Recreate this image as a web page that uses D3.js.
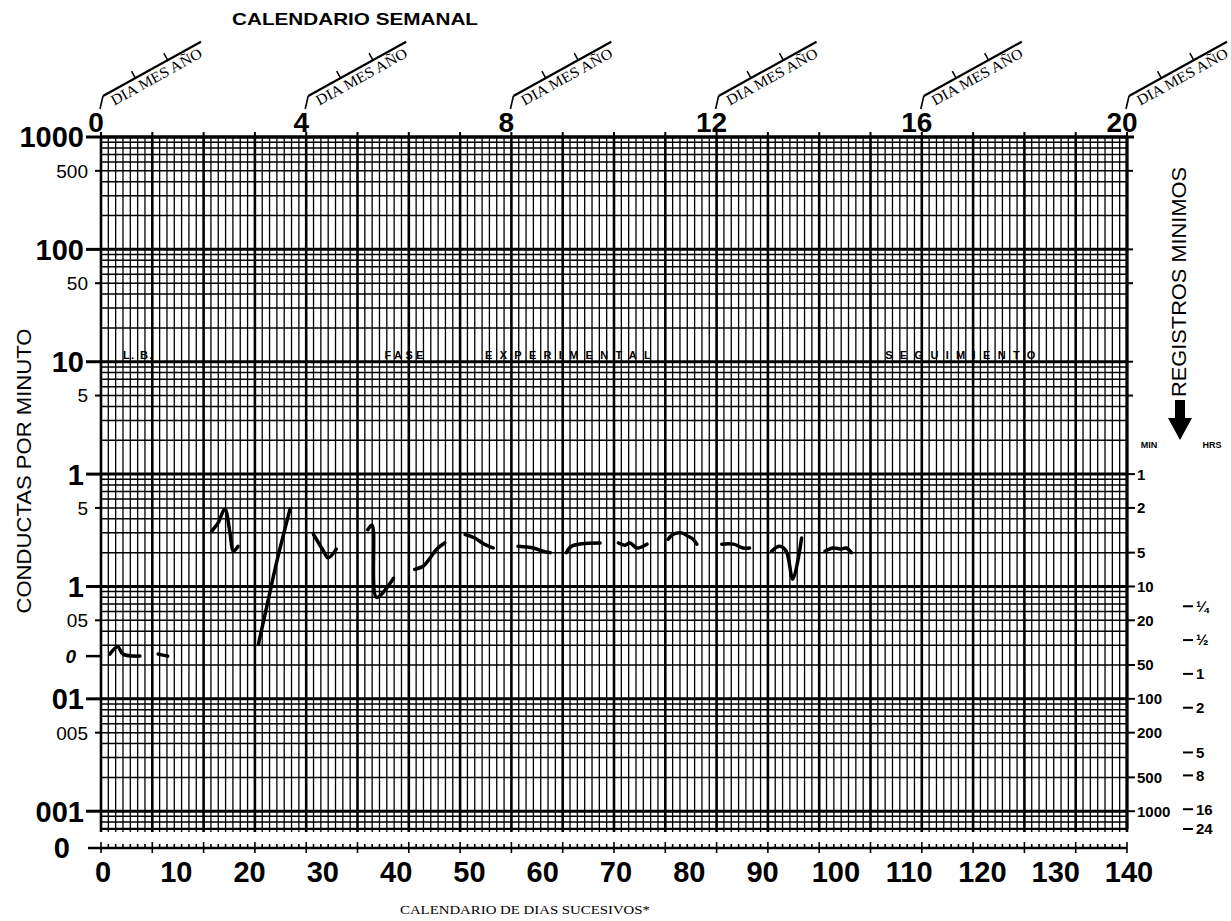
<!DOCTYPE html>
<html>
<head>
<meta charset="utf-8">
<script src="https://cdn.jsdelivr.net/npm/d3@7"></script>
<style>
  body { margin: 0; background: #fff; }
  text { fill: #000; }
</style>
</head>
<body>
<svg id="chart" width="1231" height="921"></svg>
<script>
// --- data ---
var weekTicks = [0, 4, 8, 12, 16, 20];
var dayTicks = d3.range(0, 141, 10);
var leftLabels = ["1000", "500", "100", "50", "10", "5", "1", "5", "1", "05", "01", "005", "001"];
var leftValues = [1000, 500, 100, 50, 10, 5, 1, 0.5, 0.1, 0.05, 0.01, 0.005, 0.001];
var minuteLabels = [1, 2, 5, 10, 20, 50, 100, 200, 500, 1000];
var hourLabels = ["¼", "½", "1", "2", "5", "8", "16", "24"];
var hourValues = [0.25, 0.5, 1, 2, 5, 8, 16, 24];
var phaseLabels = ["L.  B.", "FASE", "EXPERIMENTAL", "SEGUIMIENTO"];
var phaseFrom = [3, 38.7, 52.4, 107];
var phaseTo = [7, 44, 75, 127.5];
var zeroRate = 0.024;

// daily records (day, rate per minute); null = gap in the hand-drawn line
var recDays = [1.2, 2.3, 3, 5.3, null,
  7.8, 9.1, null,
  15.1, 16, 16.9, 17.6, 18.05, 18.7, null,
  21.5, 22.2, 23.1, 24, 25.8, null,
  29, 30.3, 31, 32.1, null,
  36.4, 37, 37.6, 39.9, null,
  42.8, 44, 44.9, 45.8, 46.9, null,
  49.7, 51, 52.2, 53.5, null,
  56.9, 59, 60.3, 61.3, null,
  63.5, 64.2, 65.6, 68.1, null,
  70.6, 71.5, 72.2, 73.1, 74.5, null,
  77.4, 78.1, 79.2, 80.1, 80.8, 81.3, null,
  84.7, 86.3, 87.6, 88.5, null,
  91.5, 92.6, 93.5, 94.4, 95.6, null,
  98.8, 99.9, 101, 101.7, 102.4];
var recRates = [0.025, 0.029, 0.025, 0.024, null,
  0.025, 0.024, null,
  0.31, 0.37, 0.49, 0.3, 0.206, 0.228, null,
  0.031, 0.05, 0.092, 0.168, 0.49, null,
  0.29, 0.21, 0.18, 0.215, null,
  0.32, 0.35, 0.08, 0.118, null,
  0.142, 0.152, 0.179, 0.215, 0.244, null,
  0.29, 0.27, 0.24, 0.22, null,
  0.228, 0.22, 0.206, 0.2, null,
  0.2, 0.228, 0.24, 0.244, null,
  0.244, 0.233, 0.244, 0.22, 0.238, null,
  0.263, 0.292, 0.3, 0.28, 0.263, 0.238, null,
  0.238, 0.238, 0.22, 0.22, null,
  0.206, 0.228, 0.206, 0.116, 0.27, null,
  0.206, 0.22, 0.215, 0.22, 0.2];

var svg = d3.select("#chart");
var numFont = "Liberation Sans";

var x = d3.scaleLinear().domain([0, 140]).range([101, 1127]);
var xWeek = d3.scaleLinear().domain([0, 20]).range([101, 1127]);
var y = d3.scaleLog().domain([1 / 1440, 1000]).range([829, 137]);

function isDecade(v) {
  var l = Math.log10(v);
  return Math.abs(l - Math.round(l)) < 1e-9;
}

// --- grid ---
var hvals = [];
for (var e = -4; e <= 3; e++) {
  for (var k = 1; k <= 9; k++) {
    var v = k * Math.pow(10, e);
    if (v >= 1 / 1440 - 1e-12 && v <= 1000 + 1e-9) hvals.push(v);
  }
}
var grid = svg.append("g");
grid.selectAll(".vl").data(d3.range(0, 141)).enter().append("line")
  .attr("x1", function(d) { return x(d); })
  .attr("x2", function(d) { return x(d); })
  .attr("y1", y(1000))
  .attr("y2", y(1 / 1440) + 3)
  .attr("stroke", "#000")
  .attr("stroke-width", function(d) { return d % 7 == 0 ? 2.6 : 1.3; });
grid.selectAll(".hl").data(hvals).enter().append("line")
  .attr("x1", x(0)).attr("x2", x(140))
  .attr("y1", function(d) { return y(d); })
  .attr("y2", function(d) { return y(d); })
  .attr("stroke", "#000")
  .attr("stroke-width", function(d) { return isDecade(d) ? 3 : 1.5; });
// bottom edge of the grid (24 hrs floor)
grid.append("line")
  .attr("x1", x(0)).attr("x2", x(140))
  .attr("y1", y(1 / 1440)).attr("y2", y(1 / 1440))
  .attr("stroke", "#000").attr("stroke-width", 2);
// top edge + weekly ticks
grid.append("line")
  .attr("x1", x(0)).attr("x2", x(140) + 7)
  .attr("y1", y(1000)).attr("y2", y(1000))
  .attr("stroke", "#000").attr("stroke-width", 3.2);
grid.selectAll(".wt").data(d3.range(0, 21)).enter().append("line")
  .attr("x1", function(d) { return xWeek(d); })
  .attr("x2", function(d) { return xWeek(d); })
  .attr("y1", y(1000) - 5).attr("y2", y(1000))
  .attr("stroke", "#000").attr("stroke-width", 2);

// --- left axis ---
var leftG = svg.append("g");
leftValues.forEach(function(v, i) {
  var big = isDecade(v);
  leftG.append("line")
    .attr("x1", big ? 86 : 95).attr("x2", x(0))
    .attr("y1", y(v)).attr("y2", y(v))
    .attr("stroke", "#000").attr("stroke-width", big ? 3 : 2);
  leftG.append("text")
    .attr("x", big ? 84 : 88).attr("y", y(v))
    .attr("dy", "0.36em")
    .attr("text-anchor", "end")
    .style("font-family", numFont)
    .style("font-size", big ? "29px" : "19px")
    .style("font-weight", big ? "bold" : "normal")
    .text(leftLabels[i]);
});
// hand-drawn zero line
leftG.append("line")
  .attr("x1", 86).attr("x2", x(0))
  .attr("y1", y(zeroRate)).attr("y2", y(zeroRate))
  .attr("stroke", "#000").attr("stroke-width", 2.5);
leftG.append("text")
  .attr("x", 76).attr("y", y(zeroRate)).attr("dy", "0.36em")
  .attr("text-anchor", "end")
  .style("font-family", numFont).style("font-size", "19px")
  .style("font-style", "italic").style("font-weight", "bold")
  .text("0");

svg.append("text")
  .attr("transform", "translate(31,471) rotate(-90)")
  .attr("text-anchor", "middle")
  .attr("textLength", 285).attr("lengthAdjust", "spacingAndGlyphs")
  .style("font-family", "Liberation Sans").style("font-size", "20px")
  .text("CONDUCTAS POR MINUTO");

// --- bottom day axis ---
var yAxisLine = 848;
var bottomG = svg.append("g");
bottomG.append("line")
  .attr("x1", 88).attr("x2", x(140))
  .attr("y1", yAxisLine).attr("y2", yAxisLine)
  .attr("stroke", "#000").attr("stroke-width", 2.5);
bottomG.selectAll(".dt").data(d3.range(0, 141)).enter().append("line")
  .attr("x1", function(d) { return x(d); })
  .attr("x2", function(d) { return x(d); })
  .attr("y1", function(d) { return yAxisLine - (d % 7 == 0 ? 6 : 4); })
  .attr("y2", function(d) { return yAxisLine + (d % 7 == 0 ? 5 : 1); })
  .attr("stroke", "#000").attr("stroke-width", 1.6);
bottomG.append("text")
  .attr("x", 70).attr("y", yAxisLine).attr("dy", "0.36em")
  .attr("text-anchor", "end")
  .style("font-family", numFont).style("font-size", "29px").style("font-weight", "bold")
  .text("0");
bottomG.selectAll(".dl").data(dayTicks).enter().append("text")
  .attr("x", function(d) { return x(d) + 2; })
  .attr("y", 882)
  .attr("text-anchor", "middle")
  .style("font-family", numFont).style("font-size", "29px").style("font-weight", "bold")
  .text(function(d) { return d; });
svg.append("text")
  .attr("x", 525).attr("y", 914)
  .attr("text-anchor", "middle")
  .attr("textLength", 250).attr("lengthAdjust", "spacingAndGlyphs")
  .style("font-family", "Liberation Serif").style("font-size", "13px")
  .text("CALENDARIO DE DIAS SUCESIVOS*");

// --- top weekly calendar ---
svg.append("text")
  .attr("x", 355).attr("y", 25)
  .attr("text-anchor", "middle")
  .attr("textLength", 246).attr("lengthAdjust", "spacingAndGlyphs")
  .style("font-family", "Liberation Sans").style("font-size", "17px").style("font-weight", "bold")
  .text("CALENDARIO SEMANAL");
var topG = svg.append("g");
topG.selectAll(".wl").data(weekTicks).enter().append("text")
  .attr("x", function(d) { return xWeek(d) - 5; })
  .attr("y", 132)
  .attr("text-anchor", "middle")
  .style("font-family", numFont).style("font-size", "28px").style("font-weight", "bold")
  .text(function(d) { return d; });
weekTicks.forEach(function(w) {
  var g = topG.append("g").attr("transform", "translate(" + (xWeek(w) + 2) + ",96)");
  g.append("line").attr("x1", 0).attr("y1", 0).attr("x2", -3).attr("y2", 13)
    .attr("stroke", "#000").attr("stroke-width", 1.6);
  var r = g.append("g").attr("transform", "rotate(-29)");
  r.append("line").attr("x1", 0).attr("y1", 0).attr("x2", 112).attr("y2", 0)
    .attr("stroke", "#000").attr("stroke-width", 2.2);
  [37, 74].forEach(function(t) {
    r.append("line").attr("x1", t).attr("y1", 0).attr("x2", t).attr("y2", -8)
      .attr("stroke", "#000").attr("stroke-width", 1.5);
  });
  r.append("text").attr("x", 5).attr("y", 14)
    .attr("textLength", 102).attr("lengthAdjust", "spacingAndGlyphs")
    .style("font-family", "Liberation Serif").style("font-size", "15px")
    .text("DIA MES AÑO");
});

// --- right axis: minimum records ---
var rightG = svg.append("g");
var xr = x(140);
rightG.append("line").attr("x1", xr).attr("x2", xr)
  .attr("y1", y(1000)).attr("y2", y(1 / 1440))
  .attr("stroke", "#000").attr("stroke-width", 3);
[1000, 500, 100, 50, 10, 5].forEach(function(v) {
  rightG.append("line").attr("x1", xr).attr("x2", xr + 6)
    .attr("y1", y(v)).attr("y2", y(v))
    .attr("stroke", "#000").attr("stroke-width", 2);
});
minuteLabels.forEach(function(m) {
  rightG.append("line").attr("x1", xr).attr("x2", xr + 8)
    .attr("y1", y(1 / m)).attr("y2", y(1 / m))
    .attr("stroke", "#000").attr("stroke-width", 2);
  rightG.append("text").attr("x", xr + 10).attr("y", y(1 / m)).attr("dy", "0.36em")
    .style("font-family", numFont).style("font-size", "15px").style("font-weight", "bold")
    .text(m);
});
hourValues.forEach(function(h, i) {
  var yy = y(1 / (h * 60));
  rightG.append("line").attr("x1", 1183).attr("x2", 1193)
    .attr("y1", yy).attr("y2", yy)
    .attr("stroke", "#000").attr("stroke-width", 2);
  rightG.append("text").attr("x", 1196).attr("y", yy).attr("dy", "0.36em")
    .style("font-family", numFont).style("font-size", "15px").style("font-weight", "bold")
    .text(hourLabels[i]);
});
svg.append("text")
  .attr("transform", "translate(1186,282) rotate(-90)")
  .attr("text-anchor", "middle")
  .attr("textLength", 230).attr("lengthAdjust", "spacingAndGlyphs")
  .style("font-family", "Liberation Sans").style("font-size", "20px")
  .text("REGISTROS MINIMOS");
svg.append("path")
  .attr("d", "M1175,400 L1185,400 L1185,418 L1192,418 L1180,440 L1168,418 L1175,418 Z")
  .attr("fill", "#000");
svg.append("text").attr("x", 1149).attr("y", 448).attr("text-anchor", "middle")
  .style("font-family", "Liberation Sans").style("font-size", "9px").style("font-weight", "bold")
  .text("MIN");
svg.append("text").attr("x", 1212).attr("y", 448).attr("text-anchor", "middle")
  .style("font-family", "Liberation Sans").style("font-size", "9px").style("font-weight", "bold")
  .text("HRS");

// --- phase labels along the 10-line ---
phaseLabels.forEach(function(p, i) {
  svg.append("text")
    .attr("x", x(phaseFrom[i])).attr("y", y(10) - 3)
    .attr("textLength", x(phaseTo[i]) - x(phaseFrom[i])).attr("lengthAdjust", "spacing")
    .style("font-family", "Liberation Sans").style("font-size", "11px").style("font-weight", "bold")
    .text(p);
});

// --- record line ---
var recs = recDays.map(function(d, i) { return [d, recRates[i]]; });
var line = d3.line()
  .defined(function(d) { return d[0] != null && d[1] != null; })
  .x(function(d) { return x(d[0]); })
  .y(function(d) { return y(d[1]); })
  .curve(d3.curveCatmullRom.alpha(0.5));
svg.append("path")
  .datum(recs)
  .attr("d", line)
  .attr("fill", "none")
  .attr("stroke", "#000")
  .attr("stroke-width", 3.5)
  .attr("stroke-linejoin", "round")
  .attr("stroke-linecap", "round");
</script>
</body>
</html>
